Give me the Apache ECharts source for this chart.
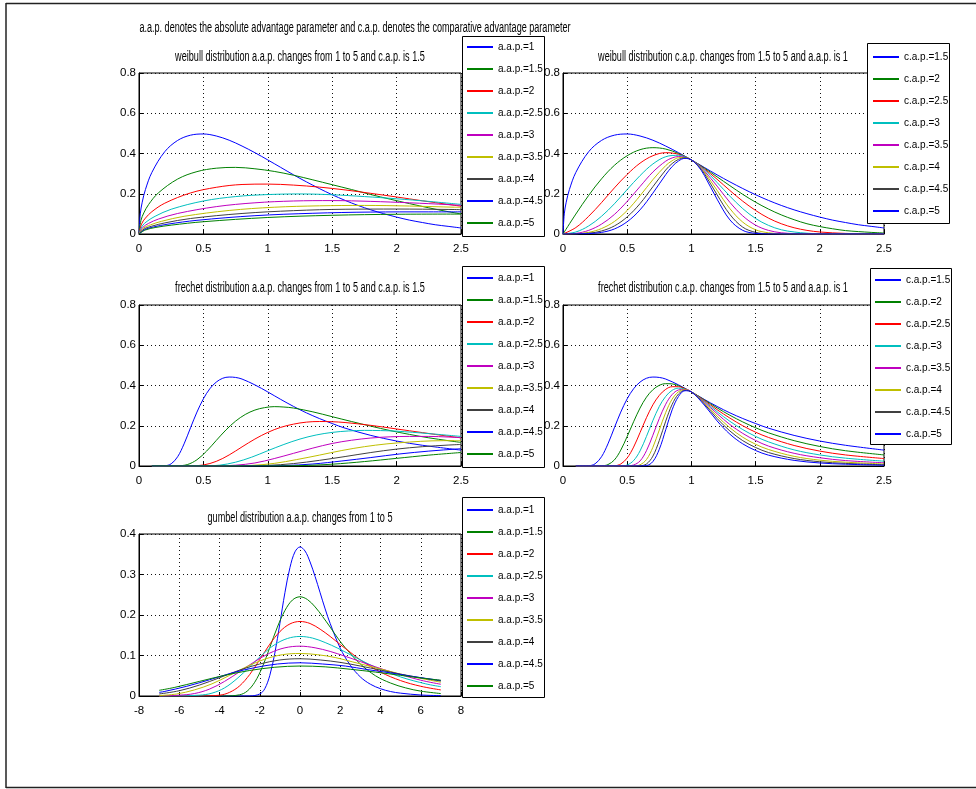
<!DOCTYPE html>
<html>
<head>
<meta charset="utf-8">
<script src="https://cdn.jsdelivr.net/npm/echarts@6/dist/echarts.min.js"></script>
<style>
html, body { margin: 0; padding: 0; background: #fff; }
#chart { width: 976px; height: 789px; }
</style>
</head>
<body>
<div id="chart"></div>
<script>
// legend labels
const aapNames = ['a.a.p.=1', 'a.a.p.=1.5', 'a.a.p.=2', 'a.a.p.=2.5', 'a.a.p.=3', 'a.a.p.=3.5', 'a.a.p.=4', 'a.a.p.=4.5', 'a.a.p.=5']
const capNames = ['c.a.p.=1.5', 'c.a.p.=2', 'c.a.p.=2.5', 'c.a.p.=3', 'c.a.p.=3.5', 'c.a.p.=4', 'c.a.p.=4.5', 'c.a.p.=5']

const mainTitle = 'a.a.p. denotes the absolute advantage parameter and c.a.p. denotes the comparative advantage parameter'
const panelTitles = [
  'weibull distribution a.a.p. changes from 1 to 5 and c.a.p. is 1.5',
  'weibull distribution c.a.p. changes from 1.5 to 5 and a.a.p. is 1',
  'frechet distribution a.a.p. changes from 1 to 5 and c.a.p. is 1.5',
  'frechet distribution c.a.p. changes from 1.5 to 5 and a.a.p. is 1',
  'gumbel distribution a.a.p. changes from 1 to 5'
]

// weibull, a.a.p. 1..5
const weibullAap = [
  [[0,0],[0.01,0.100],[0.025,0.158],[0.05,0.221],[0.1,0.306],[0.2,0.409],[0.3,0.465],[0.4,0.491],[0.5,0.497],[0.6,0.487],[0.7,0.466],[0.8,0.437],[0.9,0.404],[1.0,0.368],[1.1,0.331],[1.2,0.294],[1.3,0.259],[1.4,0.226],[1.5,0.195],[1.6,0.167],[1.7,0.142],[1.8,0.120],[1.9,0.101],[2.0,0.084],[2.1,0.069],[2.2,0.057],[2.3,0.046],[2.4,0.038],[2.5,0.030]],
  [[0,0],[0.015,0.067],[0.0375,0.105],[0.075,0.147],[0.15,0.204],[0.3,0.273],[0.45,0.310],[0.6,0.327],[0.75,0.331],[0.9,0.324],[1.05,0.311],[1.2,0.292],[1.35,0.269],[1.5,0.245],[1.65,0.221],[1.8,0.196],[1.95,0.173],[2.1,0.151],[2.25,0.130],[2.4,0.111],[2.5,0.100]],
  [[0,0],[0.02,0.050],[0.05,0.079],[0.1,0.111],[0.2,0.153],[0.4,0.204],[0.6,0.232],[0.8,0.246],[1.0,0.248],[1.2,0.243],[1.4,0.233],[1.6,0.219],[1.8,0.202],[2.0,0.184],[2.2,0.165],[2.4,0.147],[2.5,0.138]],
  [[0,0],[0.025,0.040],[0.0625,0.063],[0.125,0.088],[0.25,0.123],[0.5,0.164],[0.75,0.186],[1.0,0.196],[1.25,0.199],[1.5,0.195],[1.75,0.186],[2.0,0.175],[2.25,0.162],[2.5,0.147]],
  [[0,0],[0.03,0.033],[0.075,0.053],[0.15,0.074],[0.3,0.102],[0.6,0.136],[0.9,0.155],[1.2,0.164],[1.5,0.166],[1.8,0.162],[2.1,0.155],[2.4,0.146],[2.5,0.142]],
  [[0,0],[0.035,0.029],[0.0875,0.045],[0.175,0.063],[0.35,0.088],[0.7,0.117],[1.05,0.133],[1.4,0.140],[1.75,0.142],[2.1,0.139],[2.45,0.133],[2.5,0.132]],
  [[0,0],[0.04,0.025],[0.1,0.039],[0.2,0.055],[0.4,0.077],[0.8,0.102],[1.2,0.116],[1.6,0.123],[2.0,0.124],[2.4,0.122],[2.5,0.121]],
  [[0,0],[0.045,0.022],[0.1125,0.035],[0.225,0.049],[0.45,0.068],[0.9,0.091],[1.35,0.103],[1.8,0.109],[2.25,0.110],[2.5,0.110]],
  [[0,0],[0.05,0.020],[0.125,0.032],[0.25,0.044],[0.5,0.061],[1.0,0.082],[1.5,0.093],[2.0,0.098],[2.5,0.099]]
]

// weibull, c.a.p. 1.5..5
const weibullCap = [
  [[0,0],[0.01,0.100],[0.025,0.158],[0.05,0.221],[0.1,0.306],[0.2,0.409],[0.3,0.465],[0.4,0.491],[0.5,0.497],[0.6,0.487],[0.7,0.466],[0.8,0.437],[0.9,0.404],[1.0,0.368],[1.1,0.331],[1.2,0.294],[1.3,0.259],[1.4,0.226],[1.5,0.195],[1.6,0.167],[1.7,0.142],[1.8,0.120],[1.9,0.101],[2.0,0.084],[2.1,0.069],[2.2,0.057],[2.3,0.046],[2.4,0.038],[2.5,0.030]],
  [[0,0],[0.1,0.099],[0.2,0.192],[0.3,0.274],[0.4,0.341],[0.5,0.389],[0.6,0.419],[0.7,0.429],[0.8,0.422],[0.9,0.400],[1.0,0.368],[1.1,0.328],[1.2,0.284],[1.3,0.240],[1.4,0.197],[1.5,0.158],[1.6,0.124],[1.7,0.095],[1.8,0.071],[1.9,0.051],[2.0,0.037],[2.1,0.026],[2.2,0.017],[2.3,0.012],[2.4,0.008],[2.5,0.005]],
  [[0,0],[0.1,0.032],[0.2,0.088],[0.3,0.156],[0.4,0.229],[0.5,0.296],[0.6,0.352],[0.7,0.389],[0.8,0.404],[0.9,0.396],[1.0,0.368],[1.1,0.324],[1.2,0.272],[1.3,0.216],[1.4,0.163],[1.5,0.117],[1.6,0.079],[1.7,0.051],[1.8,0.031],[1.9,0.018],[2.0,0.010],[2.2,0.003],[2.5,0]],
  [[0,0],[0.1,0.010],[0.2,0.040],[0.3,0.088],[0.4,0.150],[0.5,0.221],[0.6,0.290],[0.7,0.348],[0.8,0.384],[0.9,0.391],[1.0,0.368],[1.1,0.320],[1.2,0.256],[1.3,0.188],[1.4,0.126],[1.5,0.077],[1.6,0.043],[1.7,0.021],[1.8,0.010],[1.9,0.004],[2.0,0.001],[2.5,0]],
  [[0,0],[0.1,0.003],[0.2,0.018],[0.3,0.049],[0.4,0.097],[0.5,0.162],[0.6,0.236],[0.7,0.308],[0.8,0.362],[0.85,0.378],[0.9,0.385],[0.95,0.381],[1.0,0.368],[1.05,0.345],[1.1,0.314],[1.2,0.238],[1.3,0.157],[1.4,0.090],[1.5,0.044],[1.6,0.018],[1.7,0.006],[1.8,0.002],[1.9,0],[2.5,0]],
  [[0,0],[0.1,0.001],[0.2,0.008],[0.3,0.027],[0.4,0.062],[0.5,0.117],[0.6,0.190],[0.7,0.270],[0.8,0.340],[0.85,0.364],[0.9,0.379],[0.95,0.380],[1.0,0.368],[1.05,0.343],[1.1,0.308],[1.2,0.217],[1.3,0.126],[1.4,0.059],[1.5,0.021],[1.6,0.006],[1.7,0.001],[1.8,0],[2.5,0]],
  [[0,0],[0.2,0.004],[0.3,0.015],[0.4,0.040],[0.5,0.085],[0.6,0.151],[0.7,0.235],[0.8,0.318],[0.85,0.350],[0.9,0.371],[0.95,0.378],[1.0,0.368],[1.05,0.341],[1.1,0.301],[1.2,0.195],[1.3,0.097],[1.4,0.034],[1.5,0.008],[1.6,0.001],[1.7,0],[2.5,0]],
  [[0,0],[0.2,0.002],[0.3,0.008],[0.4,0.025],[0.5,0.061],[0.6,0.120],[0.7,0.203],[0.8,0.295],[0.85,0.335],[0.9,0.363],[0.95,0.376],[1.0,0.368],[1.05,0.339],[1.1,0.292],[1.2,0.173],[1.3,0.070],[1.4,0.018],[1.5,0.003],[1.6,0],[2.5,0]]
]

// frechet, a.a.p. 1..5
const frechetAap = [
  [[0.1,0],[0.15,0],[0.2,0.001],[0.25,0.011],[0.3,0.046],[0.35,0.110],[0.4,0.190],[0.45,0.268],[0.5,0.334],[0.55,0.384],[0.6,0.417],[0.65,0.436],[0.7,0.442],[0.75,0.440],[0.8,0.432],[0.9,0.403],[1.0,0.368],[1.1,0.331],[1.2,0.296],[1.3,0.264],[1.4,0.236],[1.5,0.211],[1.6,0.188],[1.8,0.152],[2.0,0.124],[2.2,0.103],[2.5,0.079]],
  [[0.1,0],[0.225,0],[0.3,0.001],[0.375,0.007],[0.45,0.031],[0.525,0.074],[0.6,0.127],[0.675,0.179],[0.75,0.223],[0.825,0.256],[0.9,0.278],[0.975,0.290],[1.05,0.295],[1.125,0.293],[1.2,0.288],[1.35,0.269],[1.5,0.245],[1.65,0.221],[1.8,0.198],[1.95,0.176],[2.1,0.157],[2.25,0.140],[2.4,0.126],[2.5,0.117]],
  [[0.1,0],[0.3,0],[0.4,0.0004],[0.5,0.005],[0.6,0.023],[0.7,0.055],[0.8,0.095],[0.9,0.134],[1.0,0.167],[1.1,0.192],[1.2,0.208],[1.3,0.218],[1.4,0.221],[1.5,0.220],[1.6,0.216],[1.8,0.202],[2.0,0.184],[2.2,0.166],[2.4,0.148],[2.5,0.140]],
  [[0.1,0],[0.375,0],[0.5,0.0003],[0.625,0.004],[0.75,0.019],[0.875,0.044],[1.0,0.076],[1.125,0.107],[1.25,0.134],[1.375,0.154],[1.5,0.167],[1.625,0.174],[1.75,0.177],[1.875,0.176],[2.0,0.173],[2.25,0.161],[2.5,0.147]],
  [[0.1,0],[0.45,0],[0.6,0.0003],[0.75,0.004],[0.9,0.015],[1.05,0.037],[1.2,0.063],[1.35,0.089],[1.5,0.112],[1.65,0.128],[1.8,0.139],[1.95,0.145],[2.1,0.147],[2.25,0.147],[2.4,0.144],[2.5,0.141]],
  [[0.1,0],[0.525,0],[0.7,0.0002],[0.875,0.003],[1.05,0.013],[1.225,0.032],[1.4,0.054],[1.575,0.077],[1.75,0.096],[1.925,0.110],[2.1,0.119],[2.275,0.125],[2.45,0.126],[2.5,0.126]],
  [[0.1,0],[0.6,0],[0.8,0.0002],[1.0,0.003],[1.2,0.012],[1.4,0.028],[1.6,0.047],[1.8,0.067],[2.0,0.084],[2.2,0.096],[2.4,0.104],[2.5,0.107]],
  [[0.1,0],[0.675,0],[0.9,0.0002],[1.125,0.002],[1.35,0.010],[1.575,0.025],[1.8,0.042],[2.025,0.060],[2.25,0.074],[2.475,0.085],[2.5,0.086]],
  [[0.1,0],[0.75,0],[1.0,0.0002],[1.25,0.002],[1.5,0.009],[1.75,0.022],[2.0,0.038],[2.25,0.054],[2.5,0.067]]
]

// frechet, c.a.p. 1.5..5
const frechetCap = [
  [[0.1,0],[0.15,0],[0.2,0.001],[0.25,0.011],[0.3,0.046],[0.35,0.110],[0.4,0.190],[0.45,0.268],[0.5,0.334],[0.55,0.384],[0.6,0.417],[0.65,0.436],[0.7,0.442],[0.75,0.440],[0.8,0.432],[0.9,0.403],[1.0,0.368],[1.1,0.331],[1.2,0.296],[1.3,0.264],[1.4,0.236],[1.5,0.211],[1.6,0.188],[1.8,0.152],[2.0,0.124],[2.2,0.103],[2.5,0.079]],
  [[0.1,0],[0.25,0],[0.3,0.0006],[0.35,0.007],[0.4,0.030],[0.45,0.079],[0.5,0.147],[0.55,0.220],[0.6,0.288],[0.65,0.342],[0.7,0.379],[0.75,0.401],[0.8,0.409],[0.85,0.408],[0.9,0.399],[1.0,0.368],[1.1,0.329],[1.2,0.289],[1.3,0.252],[1.4,0.219],[1.5,0.190],[1.6,0.165],[1.8,0.126],[2.0,0.097],[2.2,0.076],[2.5,0.055]],
  [[0.1,0],[0.35,0],[0.4,0.001],[0.45,0.010],[0.5,0.040],[0.55,0.094],[0.6,0.166],[0.65,0.240],[0.7,0.304],[0.75,0.351],[0.8,0.381],[0.85,0.394],[0.9,0.394],[0.95,0.384],[1.0,0.368],[1.1,0.326],[1.2,0.280],[1.3,0.238],[1.4,0.200],[1.5,0.168],[1.6,0.142],[1.8,0.102],[2.0,0.074],[2.2,0.055],[2.5,0.037]],
  [[0.1,0],[0.4,0],[0.45,0.0004],[0.5,0.005],[0.55,0.027],[0.6,0.075],[0.65,0.147],[0.7,0.226],[0.75,0.296],[0.8,0.346],[0.85,0.376],[0.9,0.387],[0.95,0.382],[1.0,0.368],[1.1,0.322],[1.2,0.270],[1.3,0.222],[1.4,0.181],[1.5,0.147],[1.6,0.120],[1.8,0.080],[2.0,0.055],[2.2,0.039],[2.5,0.024]],
  [[0.1,0],[0.45,0],[0.5,0.0003],[0.55,0.005],[0.6,0.025],[0.65,0.076],[0.7,0.153],[0.75,0.236],[0.8,0.307],[0.85,0.355],[0.9,0.378],[0.95,0.381],[1.0,0.368],[1.1,0.318],[1.2,0.260],[1.3,0.206],[1.4,0.162],[1.5,0.127],[1.6,0.099],[1.8,0.063],[2.0,0.041],[2.2,0.027],[2.5,0.016]],
  [[0.1,0],[0.5,0],[0.55,0.0004],[0.6,0.006],[0.65,0.032],[0.7,0.093],[0.75,0.179],[0.8,0.266],[0.85,0.332],[0.9,0.369],[0.95,0.379],[1.0,0.368],[1.1,0.314],[1.2,0.248],[1.3,0.190],[1.4,0.143],[1.5,0.108],[1.6,0.082],[1.8,0.048],[2.0,0.029],[2.2,0.019],[2.5,0.010]],
  [[0.1,0],[0.55,0],[0.6,0.001],[0.65,0.010],[0.7,0.049],[0.75,0.127],[0.8,0.223],[0.85,0.306],[0.9,0.358],[0.95,0.376],[1.0,0.368],[1.1,0.309],[1.2,0.236],[1.3,0.174],[1.4,0.126],[1.5,0.092],[1.6,0.067],[1.8,0.037],[2.0,0.021],[2.2,0.013],[2.5,0.006]],
  [[0.1,0],[0.6,0],[0.65,0.002],[0.7,0.022],[0.75,0.083],[0.8,0.180],[0.85,0.279],[0.9,0.346],[0.95,0.374],[1.0,0.368],[1.1,0.303],[1.2,0.224],[1.3,0.158],[1.4,0.110],[1.5,0.077],[1.6,0.054],[1.8,0.028],[2.0,0.015],[2.2,0.009],[2.5,0.004]]
]

// gumbel, a.a.p. 1..5
const gumbelAap = [
  [[-7,0],[-3,0],[-2.5,0.0001],[-2,0.005],[-1.75,0.018],[-1.5,0.051],[-1.25,0.106],[-1,0.179],[-0.75,0.255],[-0.5,0.317],[-0.25,0.356],[0,0.368],[0.25,0.358],[0.5,0.331],[0.75,0.295],[1,0.255],[1.25,0.215],[1.5,0.179],[2,0.118],[2.5,0.076],[3,0.047],[3.5,0.029],[4,0.018],[4.5,0.011],[5,0.007],[6,0.0025],[7,0.0009]],
  [[-7,0],[-4.5,0],[-3.75,0.0001],[-3,0.003],[-2.625,0.012],[-2.25,0.034],[-1.875,0.071],[-1.5,0.120],[-1.125,0.170],[-0.75,0.211],[-0.375,0.237],[0,0.245],[0.375,0.238],[0.75,0.220],[1.125,0.196],[1.5,0.170],[1.875,0.143],[2.25,0.119],[3,0.079],[3.75,0.050],[4.5,0.032],[5.25,0.020],[6,0.012],[7,0.006]],
  [[-7,0],[-6,0],[-5,0.0001],[-4,0.002],[-3.5,0.009],[-3,0.025],[-2.5,0.053],[-2,0.090],[-1.5,0.128],[-1,0.159],[-0.5,0.178],[0,0.184],[0.5,0.179],[1,0.165],[1.5,0.147],[2,0.127],[2.5,0.108],[3,0.089],[4,0.059],[5,0.038],[6,0.024],[7,0.015]],
  [[-7,0],[-6.25,0.0001],[-5,0.002],[-4.375,0.007],[-3.75,0.020],[-3.125,0.043],[-2.5,0.072],[-1.875,0.102],[-1.25,0.127],[-0.625,0.142],[0,0.147],[0.625,0.143],[1.25,0.132],[1.875,0.118],[2.5,0.102],[3.125,0.086],[3.75,0.071],[5,0.047],[6.25,0.030],[7,0.023]],
  [[-7,0.0001],[-6,0.002],[-5.25,0.006],[-4.5,0.017],[-3.75,0.036],[-3,0.060],[-2.25,0.085],[-1.5,0.106],[-0.75,0.119],[0,0.123],[0.75,0.119],[1.5,0.110],[2.25,0.098],[3,0.085],[3.75,0.072],[4.5,0.060],[6,0.039],[7,0.029]],
  [[-7,0.001],[-6.125,0.005],[-5.25,0.015],[-4.375,0.030],[-3.5,0.051],[-2.625,0.073],[-1.75,0.091],[-0.875,0.102],[0,0.105],[0.875,0.102],[1.75,0.095],[2.625,0.084],[3.5,0.073],[4.375,0.062],[5.25,0.051],[7,0.034]],
  [[-7,0.005],[-6,0.013],[-5,0.027],[-4,0.045],[-3,0.064],[-2,0.079],[-1,0.089],[0,0.092],[1,0.089],[2,0.083],[3,0.074],[4,0.064],[5,0.054],[6,0.045],[7,0.037]],
  [[-7,0.009],[-6.75,0.011],[-5.625,0.024],[-4.5,0.040],[-3.375,0.057],[-2.25,0.070],[-1.125,0.079],[0,0.082],[1.125,0.079],[2.25,0.074],[3.375,0.065],[4.5,0.057],[5.625,0.048],[6.75,0.040],[7,0.038]],
  [[-7,0.014],[-6.25,0.021],[-5,0.036],[-3.75,0.051],[-2.5,0.063],[-1.25,0.071],[0,0.074],[1.25,0.072],[2.5,0.066],[3.75,0.059],[5,0.051],[6.25,0.043],[7,0.039]]
]

// matlab style line colours (b g r c m y k, then again)
const lineColors = ['#0000ff', '#008000', '#ff0000', '#00bfbf', '#bf00bf', '#bfbf00', '#404040', '#0000ff', '#008000']

const FONT = "'Liberation Sans', Arial, sans-serif"

// panel layout
const grids = [
  { left: 139, top: 73, width: 322, height: 161 },
  { left: 563, top: 73, width: 321, height: 161 },
  { left: 139, top: 305, width: 322, height: 161 },
  { left: 563, top: 305, width: 321, height: 161 },
  { left: 139, top: 534, width: 322, height: 162 }
]
const xRanges = [[0, 2.5, 0.5], [0, 2.5, 0.5], [0, 2.5, 0.5], [0, 2.5, 0.5], [-8, 8, 2]]
const yRanges = [[0, 0.8, 0.2], [0, 0.8, 0.2], [0, 0.8, 0.2], [0, 0.8, 0.2], [0, 0.4, 0.1]]
const panelCurves = [weibullAap, weibullCap, frechetAap, frechetCap, gumbelAap]
const panelNames = [aapNames, capNames, aapNames, capNames, aapNames]

// legend boxes: x, y, w, h
const legendBoxes = [[462, 36, 82, 200], [867, 43, 82, 180], [462, 266, 82, 201], [870, 268, 81, 176], [462, 497, 82, 200]]
const legendPos = [[466, 40], [872, 50], [466, 271], [874, 273], [466, 503]]
const titlePos = [[300, 57], [723, 57], [300, 288], [723, 288], [300, 518]]

const axisCommon = (range, isX) => ({
  type: 'value',
  min: range[0],
  max: range[1],
  interval: range[2],
  axisLine: { show: true, onZero: false, lineStyle: { color: '#000', width: 1 } },
  axisTick: { show: true, inside: true, length: 4, lineStyle: { color: '#000' } },
  axisLabel: { color: '#000', fontSize: 11.5, fontFamily: FONT, margin: isX ? 9 : 3 },
  splitLine: { show: true, lineStyle: { color: '#111', type: [1, 3], width: 1 } }
})

const series = []
panelCurves.forEach((curves, p) => {
  curves.forEach((data, i) => {
    series.push({
      type: 'line',
      name: panelNames[p][i],
      xAxisIndex: p,
      yAxisIndex: p,
      data: data,
      symbol: 'none',
      showSymbol: false,
      smooth: 0.35,
      clip: true,
      lineStyle: { width: 1, color: lineColors[i] },
      itemStyle: { color: lineColors[i] }
    })
  })
})

const graphics = []
// outer frame
graphics.push({ type: 'line', shape: { x1: 6, y1: 3.5, x2: 976, y2: 3.5 }, style: { stroke: '#222', lineWidth: 1.5 } })
graphics.push({ type: 'line', shape: { x1: 6, y1: 3, x2: 6, y2: 788 }, style: { stroke: '#222', lineWidth: 1.5 } })
graphics.push({ type: 'line', shape: { x1: 6, y1: 787.5, x2: 976, y2: 787.5 }, style: { stroke: '#222', lineWidth: 1.5 } })
// titles, narrow like the matlab font
graphics.push({
  type: 'text', x: 355, y: 28, scaleX: 0.648,
  style: { text: mainTitle, fill: '#000', fontSize: 14, fontFamily: FONT, align: 'center', verticalAlign: 'middle' }
})
panelTitles.forEach((t, i) => {
  graphics.push({
    type: 'text', x: titlePos[i][0], y: titlePos[i][1], scaleX: 0.651,
    style: { text: t, fill: '#000', fontSize: 14, fontFamily: FONT, align: 'center', verticalAlign: 'middle' }
  })
})
// legend boxes
legendBoxes.forEach(b => {
  graphics.push({
    type: 'rect', z: 50,
    shape: { x: b[0] + 0.5, y: b[1] + 0.5, width: b[2], height: b[3] },
    style: { fill: '#fff', stroke: '#000', lineWidth: 1 }
  })
})

const option = {
  animation: false,
  backgroundColor: '#fff',
  grid: grids.map(g => Object.assign({ show: true, borderColor: '#000', borderWidth: 1, backgroundColor: 'transparent' }, g)),
  xAxis: xRanges.map((r, i) => Object.assign(axisCommon(r, true), { gridIndex: i })),
  yAxis: yRanges.map((r, i) => Object.assign(axisCommon(r, false), { gridIndex: i })),
  legend: legendPos.map((pos, i) => ({
    orient: 'vertical',
    left: pos[0],
    top: pos[1],
    data: panelNames[i],
    selectedMode: false,
    itemWidth: 26,
    itemHeight: 14,
    itemGap: 8,
    padding: 0,
    z: 60,
    itemStyle: { opacity: 0, borderWidth: 0 },
    textStyle: { color: '#000', fontSize: 10, fontFamily: FONT, lineHeight: 14 }
  })),
  graphic: { elements: graphics },
  series: series
}

const chart = echarts.init(document.getElementById('chart'))
chart.setOption(option)
window.addEventListener('resize', () => chart.resize())
</script>
</body>
</html>
